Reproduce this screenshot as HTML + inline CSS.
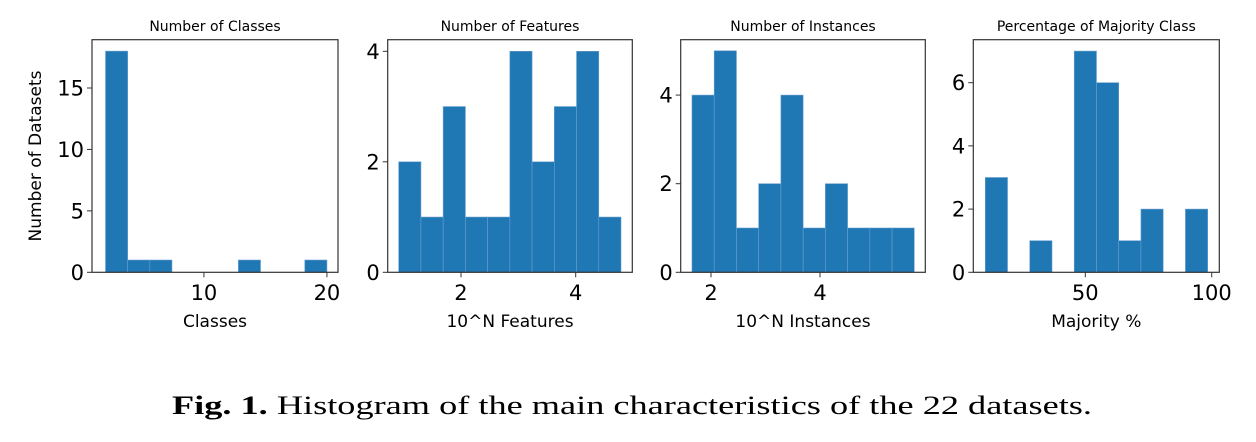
<!DOCTYPE html>
<html><head><meta charset="utf-8"><style>
html,body{margin:0;padding:0;background:#fff;}
svg{display:block;}
text{font-family:"DejaVu Sans","Liberation Sans",sans-serif;fill:#000;}
</style></head>
<body>
<svg id="fig" width="1256" height="442" viewBox="0 0 1256 442" xmlns="http://www.w3.org/2000/svg">
<text x="172" y="414" font-size="26" textLength="920" lengthAdjust="spacingAndGlyphs" style="font-family:'Liberation Serif',serif"><tspan font-weight="bold">Fig. 1.</tspan> Histogram of the main characteristics of the 22 datasets.</text>
</svg>
<script>
// Panel data
const classesCounts = [18,1,1,0,0,0,1,0,0,1];
const classesRange = [2,20];
const featuresCounts = [2,1,3,1,1,4,2,3,4,1];
const featuresRange = [0.914,4.79];
const instancesCounts = [4,5,1,2,4,1,2,1,1,1];
const instancesRange = [1.651,5.73];
const majorityCounts = [3,0,1,0,7,6,1,2,0,2];
const majorityRange = [10.44,98.4];
const classesTicks = [10,20];
const classesYTicks = [0,5,10,15];
const featuresTicks = [2,4];
const featuresYTicks = [0,2,4];
const instancesTicks = [2,4];
const instancesYTicks = [0,2,4];
const majorityTicks = [50,100];
const majorityYTicks = [0,2,4,6];

const NS = "http://www.w3.org/2000/svg";
const svg = document.getElementById('fig');
function mk(tag, attrs, parent){
  const e = document.createElementNS(NS, tag);
  for (const k in attrs) e.setAttribute(k, attrs[k]);
  (parent||svg).appendChild(e);
  return e;
}
const TOP = 39.7, BOT = 272.3;

const panels = [
  {key:'classes', title:'Number of Classes', xlabel:'Classes', counts:classesCounts, range:classesRange, xt:classesTicks, yt:classesYTicks,
   left:92, right:338, xd:[0.9,20.9], ymax:18.93, ylabel:'Number of Datasets'},
  {key:'features', title:'Number of Features', xlabel:'10^N Features', counts:featuresCounts, range:featuresRange, xt:featuresTicks, yt:featuresYTicks,
   left:387.7, right:632.3, xd:[0.722,4.987], ymax:4.21},
  {key:'instances', title:'Number of Instances', xlabel:'10^N Instances', counts:instancesCounts, range:instancesRange, xt:instancesTicks, yt:instancesYTicks,
   left:680.7, right:925.3, xd:[1.444,5.932], ymax:5.25},
  {key:'majority', title:'Percentage of Majority Class', xlabel:'Majority %', counts:majorityCounts, range:majorityRange, xt:majorityTicks, yt:majorityYTicks,
   left:973.3, right:1219.3, xd:[5.70,103.0], ymax:7.36}
];

panels.forEach(p=>{
  const g = mk('g',{});
  
  
  const xs = v => p.left + (v-p.xd[0])/(p.xd[1]-p.xd[0])*(p.right-p.left);
  const ys = v => BOT - v/p.ymax*(BOT-TOP);
  const n = p.counts.length, w = (p.range[1]-p.range[0])/n;
  p.counts.forEach((c,i)=>{
    if(c<=0) return;
    const x0 = xs(p.range[0]+i*w), x1 = xs(p.range[0]+(i+1)*w);
    const r = mk('rect',{x:x0,y:ys(c),width:x1-x0,height:ys(0)-ys(c),fill:'#1f77b4',stroke:'#6a9fcf','stroke-width':0.6},g);
    
    
  });
  const frame = mk('rect',{x:p.left,y:TOP,width:p.right-p.left,height:BOT-TOP,fill:'none',stroke:'#333','stroke-width':1.2},g);
  
  
  p.xt.forEach(t=>{
    const x = xs(t);
    mk('line',{x1:x,x2:x,y1:BOT,y2:BOT+5,stroke:'#333','stroke-width':1},g);
    const tx = mk('text',{x:x,y:300,'font-size':21,'text-anchor':'middle'},g);
    tx.textContent = t;
    
    
  });
  p.yt.forEach(t=>{
    const y = ys(t);
    mk('line',{x1:p.left-5,x2:p.left,y1:y,y2:y,stroke:'#333','stroke-width':1},g);
    const tx = mk('text',{x:p.left-8,y:y+7.5,'font-size':21,'text-anchor':'end'},g);
    tx.textContent = t;
    
    
  });
  const cx = (p.left+p.right)/2;
  const tt = mk('text',{x:cx,y:31,'font-size':14,'text-anchor':'middle'},g);
  tt.textContent = p.title;
  
  
  const xl = mk('text',{x:cx,y:327,'font-size':17,'text-anchor':'middle'},g);
  xl.textContent = p.xlabel;
  
  
  if(p.ylabel){
    const yl = mk('text',{x:0,y:0,'font-size':17,'text-anchor':'middle',transform:'translate(41,156) rotate(-90)'},g);
    yl.textContent = p.ylabel;
    
    
  }
});
</script>
</body></html>
